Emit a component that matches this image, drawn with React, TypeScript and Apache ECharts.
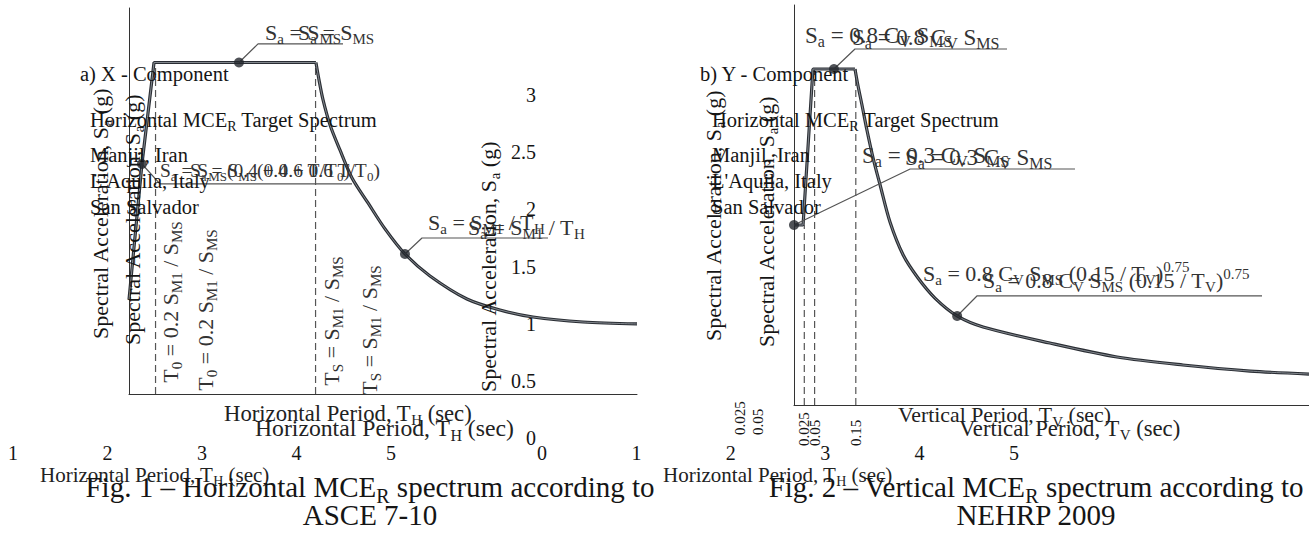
import { useEffect, useRef } from 'react';
import * as echarts from 'echarts';

const FONT = "'Liberation Serif', 'Times New Roman', Times, serif";
const INK = '#151515';
const FORM = '#333333';
const CURVE = '#2a2e34';
const LEADER = '#555555';

// Fig. 1 – horizontal MCE_R spectrum (ASCE 7-10): period T_H in s, S_a in g
const hRiseT = [0, 0.102, 0.197, 1.472];
const hRiseSa = [0.83, 2.026, 2.92, 2.92];
const hDecayT = [1.472, 1.496, 1.528, 1.583, 1.661, 1.756, 1.882, 2.016, 2.173, 2.37, 2.661, 2.921, 3.181, 3.575, 4.0];
const hDecaySa = [2.92, 2.767, 2.59, 2.37, 2.15, 1.903, 1.683, 1.454, 1.233, 1.04, 0.837, 0.74, 0.678, 0.634, 0.617];
const hCornerT = [0.209, 1.469]; // T0, TS
const hCornerSa = [2.92, 2.92];
const hPointT = [0.102, 0.866, 2.173];
const hPointSa = [2.026, 2.92, 1.233];
const hLeaderT = [
  [0.866, 1.016, 1.685],
  [0.102, 0.244, 1.756],
  [2.173, 2.307, 3.299],
];
const hLeaderSa = [
  [2.92, 3.084, 3.084],
  [2.026, 1.85, 1.85],
  [1.233, 1.374, 1.374],
];

// Fig. 2 – vertical MCE_R spectrum (NEHRP 2009): period T_V in s, S_a in g
const vRiseT = [0, 0.022, 0.046, 0.148];
const vRiseSa = [1.575, 1.575, 2.94, 2.94];
const vDecayT = [0.148, 0.155, 0.165, 0.177, 0.192, 0.209, 0.233, 0.265, 0.301, 0.342, 0.396, 0.459, 0.621, 0.784, 0.944, 1.107, 1.25];
const vDecaySa = [2.94, 2.8, 2.625, 2.406, 2.161, 1.925, 1.601, 1.312, 1.111, 0.936, 0.779, 0.682, 0.542, 0.42, 0.35, 0.297, 0.271];
const vCornerT = [0.025, 0.05, 0.15];
const vCornerSa = [1.575, 2.94, 2.94];
const vPointT = [0.097, 0, 0.396];
const vPointSa = [2.94, 1.575, 0.779];
const vLeaderT = [
  [0.097, 0.148, 0.517],
  [0, 0.282, 0.682],
  [0.396, 0.444, 1.136],
];
const vLeaderSa = [
  [2.94, 3.115, 3.115],
  [1.575, 2.065, 2.065],
  [0.779, 0.954, 0.954],
];

// tick labels
const vPeriodTicks = ['0.025', '0.05', '0.15'];
const loosePeriodTicks = ['0.025', '0.05'];

// texts
const legendItems = ['Horizontal MCE_R Target Spectrum', 'Manjil, Iran', "L'Aquila, Italy", 'San Salvador'];
const yTitle = 'Spectral Acceleration, S_a (g)';
const hTitle = 'Horizontal Period, T_H (sec)';
const vTitle = 'Vertical Period, T_V (sec)';

const pairs = (xs: number[], ys: number[]) => xs.map((x, i) => [x, ys[i]]);

// "_x" / "_{xy}" -> subscript, "^{..}" -> superscript
function toRich(src: string): string {
  let out = '';
  let buf = '';
  const flush = () => {
    if (buf) {
      out += `{n|${buf}}`;
      buf = '';
    }
  };
  for (let i = 0; i < src.length; i++) {
    const c = src[i];
    if (c === '_' || c === '^') {
      flush();
      let seg = '';
      if (src[i + 1] === '{') {
        const j = src.indexOf('}', i + 2);
        seg = src.slice(i + 2, j);
        i = j;
      } else {
        seg = src[i + 1];
        i++;
      }
      out += `{${c === '_' ? 's' : 'p'}|${seg}}`;
    } else {
      buf += c;
    }
  }
  flush();
  return out;
}

function richStyle(size: number, color: string) {
  const small = Math.round(size * 0.68);
  return {
    n: { fontSize: size, fontFamily: FONT, fill: color, color, lineHeight: Math.round(size * 1.27) },
    s: { fontSize: small, fontFamily: FONT, fill: color, color, verticalAlign: 'bottom' },
    p: { fontSize: small, fontFamily: FONT, fill: color, color, verticalAlign: 'top' },
  };
}

type TOpts = { rot?: boolean; align?: string; sx?: number };
function txt(src: string, x: number, y: number, size: number, color: string, o: TOpts = {}) {
  const align = o.align ?? (o.rot ? 'center' : 'left');
  return {
    type: 'text',
    x,
    y,
    rotation: o.rot ? Math.PI / 2 : 0,
    scaleX: o.sx ?? 1,
    z: 50,
    silent: true,
    style: {
      text: toRich(src),
      rich: richStyle(size, color),
      fill: color,
      fontSize: size,
      fontFamily: FONT,
      align,
      verticalAlign: 'middle',
      textAlign: align,
      textVerticalAlign: 'middle',
    },
  };
}

function buildGraphics() {
  const g: any[] = [];
  // panel a
  g.push(txt('a) X - Component', 80, 74, 20.5, INK));
  const legendY = [120, 155, 181, 207];
  legendItems.forEach((s, i) => g.push(txt(s, 90, legendY[i], 20.5, INK)));
  g.push(txt('S_a = S_{MS}', 265, 32, 22, FORM));
  g.push(txt('S_a = S_{MS}', 298, 32, 22, FORM));
  g.push(txt('S_a = S_{MS}(0.4 + 0.6 T/T_0)', 160, 170, 19.5, FORM));
  g.push(txt('S_a = S_{MS}(0.4 + 0.6 T/T_0)', 190, 170, 19.5, FORM));
  g.push(txt('S_a = S_{M1} / T_H', 428, 222, 22, FORM));
  g.push(txt('S_a = S_{M1} / T_H', 468, 227, 22, FORM));
  g.push(txt('T_0 = 0.2 S_{M1} / S_{MS}', 170, 302, 22, FORM, { rot: true }));
  g.push(txt('T_0 = 0.2 S_{M1} / S_{MS}', 205, 310, 22, FORM, { rot: true }));
  g.push(txt('T_S = S_{M1} / S_{MS}', 331, 321, 22, FORM, { rot: true }));
  g.push(txt('T_S = S_{M1} / S_{MS}', 369, 330, 22, FORM, { rot: true }));
  g.push(txt(yTitle, 100, 214, 22, INK, { rot: true }));
  g.push(txt(yTitle, 132, 220, 22, INK, { rot: true }));
  g.push(txt(yTitle, 488, 267, 22, INK, { rot: true }));
  g.push(txt(hTitle, 224, 413, 22.7, '#222'));
  g.push(txt(hTitle, 255, 428, 23.7, '#222'));
  g.push(txt(hTitle, 40, 475, 21, '#222'));
  g.push(txt('Fig. 1 – Horizontal MCE_R spectrum according to', 370, 487, 29, INK, { align: 'center' }));
  g.push(txt('ASCE 7-10', 370, 515, 29, INK, { align: 'center' }));

  // panel b
  g.push(txt('b) Y - Component', 700, 74, 20.5, INK));
  legendItems.forEach((s, i) => g.push(txt(s, 712, legendY[i], 20.5, INK)));
  g.push(txt('S_a = 0.8 C_V S_{MS}', 805, 35, 23, FORM));
  g.push(txt('S_a = 0.8 C_V S_{MS}', 852, 37, 23, FORM));
  g.push(txt('S_a = 0.3 C_V S_{MS}', 862, 155, 23, FORM));
  g.push(txt('S_a = 0.3 C_V S_{MS}', 905, 157, 23, FORM));
  g.push(txt('S_a = 0.8 C_V S_{MS} (0.15 / T_V)^{0.75}', 923, 273, 22, FORM));
  g.push(txt('S_a = 0.8 C_V S_{MS} (0.15 / T_V)^{0.75}', 983, 280, 22, FORM));
  g.push(txt(yTitle, 713, 216, 22, INK, { rot: true }));
  g.push(txt(yTitle, 766, 222, 22, INK, { rot: true }));
  g.push(txt(vTitle, 898, 415, 21.8, '#222'));
  g.push(txt(vTitle, 959, 428, 22.7, '#222'));
  g.push(txt(hTitle, 663, 475, 21, '#222'));
  g.push(txt('Fig. 2 – Vertical MCE_R spectrum according to', 1036, 487, 29, INK, { align: 'center' }));
  g.push(txt('NEHRP 2009', 1036, 515, 29, INK, { align: 'center' }));
  return g;
}

const tickFont = { fontFamily: FONT, color: INK };

function curveSeries(data: number[][], axis: number, smooth: boolean) {
  return [
    {
      type: 'line',
      xAxisIndex: axis,
      yAxisIndex: axis,
      data,
      symbol: 'none',
      smooth: smooth ? 0.3 : false,
      lineStyle: { color: CURVE, width: 3.2 },
      z: 3,
    },
    {
      type: 'line',
      xAxisIndex: axis,
      yAxisIndex: axis,
      data,
      symbol: 'none',
      smooth: smooth ? 0.3 : false,
      lineStyle: { color: '#9aa0a6', width: 0.8 },
      z: 4,
    },
  ];
}

function dashedSeries(ts: number[], sas: number[], axis: number) {
  return ts.map((t, i) => ({
    type: 'line',
    xAxisIndex: axis,
    yAxisIndex: axis,
    data: [
      [t, 0],
      [t, sas[i]],
    ],
    symbol: 'none',
    lineStyle: { color: '#555', width: 1.2, type: [7, 4] },
    z: 2,
  }));
}

function leaderSeries(ts: number[][], sas: number[][], axis: number) {
  return ts.map((row, i) => ({
    type: 'line',
    xAxisIndex: axis,
    yAxisIndex: axis,
    data: pairs(row, sas[i]),
    symbol: 'none',
    lineStyle: { color: LEADER, width: 1.2 },
    z: 5,
  }));
}

function pointSeries(ts: number[], sas: number[], axis: number) {
  return {
    type: 'scatter',
    xAxisIndex: axis,
    yAxisIndex: axis,
    data: pairs(ts, sas),
    symbolSize: 10,
    itemStyle: { color: '#23272d' },
    z: 6,
  };
}

const hiddenX = (gridIndex: number) => ({ type: 'value', gridIndex, show: false, min: 0, max: 1 });
const hiddenY = (gridIndex: number) => ({ type: 'value', gridIndex, show: false, min: 0, max: 1 });
const mainLine = { show: true, lineStyle: { color: '#333', width: 1 } };

function buildOption() {
  return {
    animation: false,
    backgroundColor: '#ffffff',
    grid: [
      { left: 129, top: 8, width: 508, height: 386 },
      { left: 794, top: 5, width: 515, height: 400 },
      { left: 542, top: 95, width: 10, height: 343 },
      { left: 13, top: 340, width: 378, height: 100 },
      { left: 542, top: 340, width: 472, height: 100 },
      { left: 731, top: 300, width: 36, height: 100 },
    ],
    xAxis: [
      {
        type: 'value', gridIndex: 0, min: 0, max: 4,
        axisLine: mainLine, axisTick: { show: false }, axisLabel: { show: false }, splitLine: { show: false },
      },
      {
        type: 'value', gridIndex: 1, min: 0, max: 1.25, interval: 0.025,
        axisLine: mainLine, axisTick: { show: false }, splitLine: { show: false },
        axisLabel: {
          ...tickFont, fontSize: 15, rotate: 90, align: 'left', verticalAlign: 'middle', margin: 41,
          formatter: (v: number) => {
            const hit = vPeriodTicks.find((s) => Math.abs(parseFloat(s) - v) < 1e-6);
            return hit ?? '';
          },
        },
      },
      hiddenX(2),
      {
        type: 'value', gridIndex: 3, min: 1, max: 5, interval: 1,
        axisLine: { show: false }, axisTick: { show: false }, splitLine: { show: false },
        axisLabel: { ...tickFont, fontSize: 20, margin: 3 },
      },
      {
        type: 'value', gridIndex: 4, min: 0, max: 5, interval: 1,
        axisLine: { show: false }, axisTick: { show: false }, splitLine: { show: false },
        axisLabel: { ...tickFont, fontSize: 20, margin: 3 },
      },
      {
        type: 'category', gridIndex: 5, data: loosePeriodTicks,
        axisLine: { show: false }, axisTick: { show: false }, splitLine: { show: false },
        axisLabel: { ...tickFont, fontSize: 15, rotate: 90, align: 'left', verticalAlign: 'middle', margin: 35, interval: 0 },
      },
    ],
    yAxis: [
      {
        type: 'value', gridIndex: 0, min: 0, max: 3.4,
        axisLine: mainLine, axisTick: { show: false }, axisLabel: { show: false }, splitLine: { show: false },
      },
      {
        type: 'value', gridIndex: 1, min: 0, max: 3.5,
        axisLine: mainLine, axisTick: { show: false }, axisLabel: { show: false }, splitLine: { show: false },
      },
      {
        type: 'value', gridIndex: 2, min: 0, max: 3, interval: 0.5,
        axisLine: { show: false }, axisTick: { show: false }, splitLine: { show: false },
        axisLabel: { ...tickFont, fontSize: 20, margin: 6 },
      },
      hiddenY(3),
      hiddenY(4),
      hiddenY(5),
    ],
    series: [
      ...dashedSeries(hCornerT, hCornerSa, 0),
      ...curveSeries(pairs(hRiseT, hRiseSa), 0, false),
      ...curveSeries(pairs(hDecayT, hDecaySa), 0, true),
      ...leaderSeries(hLeaderT, hLeaderSa, 0),
      pointSeries(hPointT, hPointSa, 0),
      ...dashedSeries(vCornerT, vCornerSa, 1),
      ...curveSeries(pairs(vRiseT, vRiseSa), 1, false),
      ...curveSeries(pairs(vDecayT, vDecaySa), 1, true),
      ...leaderSeries(vLeaderT, vLeaderSa, 1),
      pointSeries(vPointT, vPointSa, 1),
    ],
    graphic: { elements: buildGraphics() },
  };
}

export default function App() {
  const ref = useRef<HTMLDivElement>(null);
  useEffect(() => {
    if (!ref.current) return;
    const chart = echarts.init(ref.current, undefined, { renderer: 'svg' });
    chart.setOption(buildOption() as any);
    return () => chart.dispose();
  }, []);
  return (
    <div
      ref={ref}
      style={{ position: 'fixed', left: 0, top: 0, width: 1309, height: 535, background: '#fff' }}
    />
  );
}
